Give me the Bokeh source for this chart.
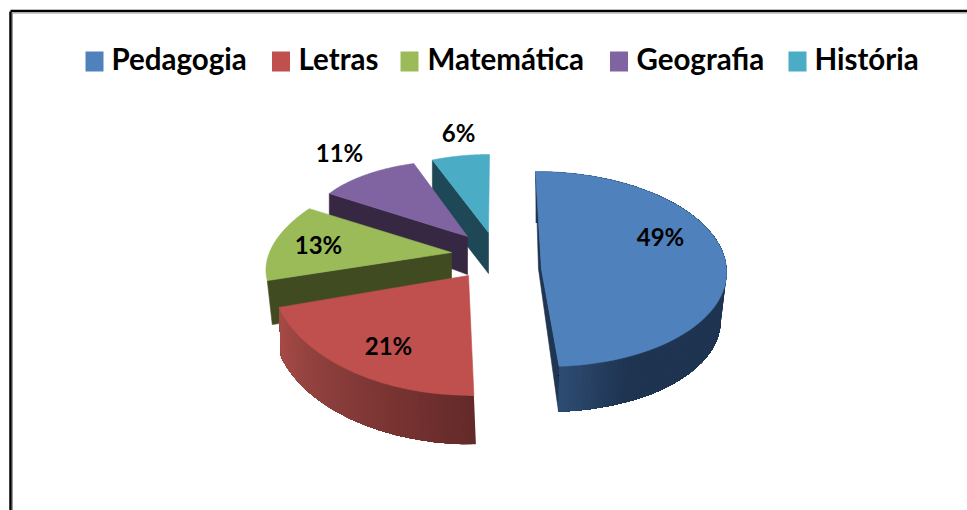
from math import sin, cos, radians
from bokeh.plotting import figure
from bokeh.models import Range1d
from bokeh.core.properties import value
from bokeh.embed import file_html
from bokeh.resources import INLINE

# ---- data ----
categories = ["Pedagogia", "Letras", "Matemática", "Geografia", "História"]
shares = [49, 21, 13, 11, 6]

# ---- styles ----
top_colors = ["#4F81BD", "#C0504D", "#9BBB59", "#8064A2", "#4BACC6"]
side_colors = ["#1F3552", "#6A2C2B", "#404B22", "#362742", "#1E4855"]
wall_ramps = [["#1F3450"] * 8 + ["#2D4C72"], ["#632A2A", "#7A3432", "#8E403D", "#A84B47"],
              None, None, None]

# projection of each exploded slice: apex x, y, radius x, radius y, x skew, y skew,
# wall shift x, wall shift y, wall radius scale, apex drop x, apex drop y, radial rim drop
proj = [
    dict(cx=541, cy=268.5, rx=185, ry=97.5, s=6, t=0, wx=0, wy=48.5, k=0.968, ax=-3, ay=0, rim=47),
    dict(cx=468, cy=275, rx=197, ry=119.7, s=-7, t=5.3, wx=2, wy=49, k=1.0, ax=2, ay=49, rim=49),
    dict(cx=451, cy=252, rx=182, ry=91, s=-36, t=0, wx=5, wy=44, k=1.0, ax=0, ay=44, rim=44),
    dict(cx=467, cy=236, rx=161, ry=75.5, s=-6, t=7.5, wx=0, wy=30, k=1.0, ax=0, ay=38, rim=30),
    dict(cx=488, cy=232, rx=155, ry=78, s=-1, t=0, wx=0, wy=41, k=1.0, ax=0, ay=41, rim=41),
]
label_offset = [(119, -33), (-80, 70), (-133, -8), (-128, -84), (-30, -100)]

p = figure(width=967, height=510, output_backend="svg", toolbar_location=None,
           x_range=Range1d(0, 967), y_range=Range1d(510, 0), min_border=0,
           x_axis_location=None, y_axis_location=None, outline_line_color=None)
p.grid.visible = False


def rim(g, deg, k=1.0, dx=0.0, dy=0.0):
    a = radians(deg)
    return (g["cx"] + dx + k * (g["rx"] * sin(a) - g["s"] * cos(a)),
            g["cy"] + dy + k * (-g["ry"] * cos(a) + g["t"] * sin(a)))


def mix(ramp, f):
    f = max(0.0, min(1.0, f)) * (len(ramp) - 1)
    i = min(int(f), len(ramp) - 2)
    u = f - i
    a = [int(ramp[i][j:j + 2], 16) for j in (1, 3, 5)]
    b = [int(ramp[i + 1][j:j + 2], 16) for j in (1, 3, 5)]
    return "#%02x%02x%02x" % tuple(round(x + (y - x) * u) for x, y in zip(a, b))


def poly(pts, color, line=True):
    p.patch([q[0] for q in pts], [q[1] for q in pts], fill_color=color,
            line_color=color if line else None, line_width=0.6)


total = sum(shares)
edges = [0.0]
for v in shares:
    edges.append(edges[-1] + 360.0 * v / total)

# back to front
for i in [4, 3, 2, 1, 0]:
    g = proj[i]
    a0, a1 = edges[i], edges[i + 1]
    apex = (g["cx"], g["cy"])
    if i == 0:
        e_top = rim(g, a1)
        e_low = rim(g, a1, g["k"], g["wx"], g["wy"])
        poly([rim(g, a0), apex, e_top, e_low, (apex[0] + g["ax"], apex[1] + g["ay"])], side_colors[i])
    elif i in (2, 3, 4):
        e_top = rim(g, a0)
        poly([apex, e_top, (e_top[0] + g["wx"], e_top[1] + g["rim"]),
              (apex[0] + g["ax"], apex[1] + g["ay"])], side_colors[i])
    ramp = wall_ramps[i]
    if ramp:
        n = 120 if i == 0 else 60
        # each strip runs on to the far end of the wall, so later strips overpaint the seams
        for j in range(n):
            b0 = a0 + (a1 - a0) * j / n
            arc = [a0 + (a1 - a0) * m / 60 for m in range(int(60 * j / n), 61)]
            arc[0] = b0
            pts = [rim(g, b) for b in arc] + [rim(g, b, g["k"], g["wx"], g["wy"]) for b in reversed(arc)]
            poly(pts, mix(ramp, (j + 0.5) / n), line=False)
    arc = [rim(g, a0 + (a1 - a0) * j / 80) for j in range(81)]
    poly([apex] + arc, top_colors[i])

# percentage labels
for i, v in enumerate(shares):
    g = proj[i]
    p.text([g["cx"] + label_offset[i][0]], [g["cy"] + label_offset[i][1]], text=[f"{v}%"],
           text_font=value("Lato"), text_font_size="24px", text_font_style="bold", text_color="#000000",
           text_align="center", text_baseline="middle")

# legend
swatch_x = [94, 280.5, 409, 618.5, 797]
label_x = [111, 298, 427, 636, 814]
p.rect(swatch_x, [61] * 5, width=18, height=20, fill_color=top_colors, line_color=None)
p.text(label_x, [58] * 5, text=categories, text_font=value("Lato"), text_font_size="29.5px",
       text_font_style="bold", text_color="#000000", text_align="left", text_baseline="middle")

# frame
p.line([10, 10], [11, 510], line_color="#000000", line_width=2.5)
p.line([10, 967], [10.5, 10.5], line_color="#000000", line_width=2.5)
p.line([12, 12], [12.5, 510], line_color="#9a9a9a", line_width=1)
p.line([12, 967], [12.5, 12.5], line_color="#9a9a9a", line_width=1)

open("out.html", "w").write(file_html(p, INLINE))
